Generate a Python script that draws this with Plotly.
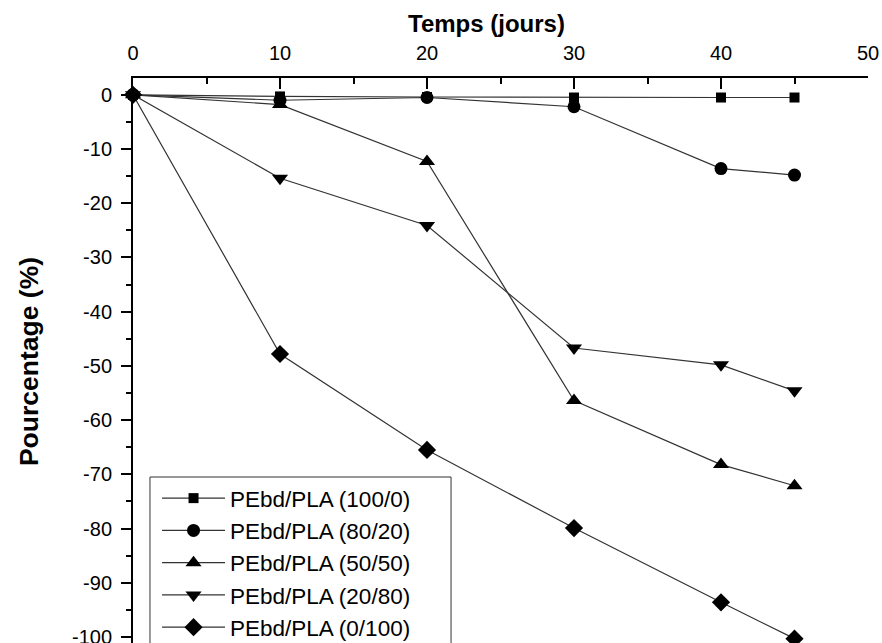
import plotly.graph_objects as go

days = [0, 10, 20, 30, 40, 45]
labels = ["PEbd/PLA (100/0)", "PEbd/PLA (80/20)", "PEbd/PLA (50/50)",
          "PEbd/PLA (20/80)", "PEbd/PLA (0/100)"]
s100_0 = [0, -0.3, -0.4, -0.5, -0.5, -0.5]
s80_20 = [0, -1.0, -0.5, -2.2, -13.6, -14.8]
s50_50 = [0, -1.8, -12.3, -56.4, -68.2, -72.1]
s20_80 = [0, -15.4, -24.1, -46.7, -49.8, -54.6]
s0_100 = [0, -47.8, -65.5, -79.9, -93.6, -100.3]
series = [s100_0, s80_20, s50_50, s20_80, s0_100]
symbols = ["square", "circle", "triangle-up", "triangle-down", "diamond"]
sizes = [10, 13, 14, 14, 14]

y_tickvals = [0, -10, -20, -30, -40, -50, -60, -70, -80, -90, -100]
y_ticktext = ["0", "-10", "-20", "-30", "-40", "-50", "-60", "-70", "-80", "-90", "-100"]

FONT = "Arial, Liberation Sans, sans-serif"

fig = go.Figure()
for lab, vals, sym, sz in zip(labels, series, symbols, sizes):
    fig.add_trace(go.Scatter(
        x=days, y=vals, name=lab, mode="lines+markers",
        line=dict(color="#333333", width=1.2),
        marker=dict(symbol=sym, size=sz, color="black", line=dict(width=0)),
        cliponaxis=False,
    ))

fig.update_layout(
    width=882, height=643,
    margin=dict(l=133, r=14, t=78, b=0, autoexpand=False),
    paper_bgcolor="white", plot_bgcolor="white",
    font=dict(family=FONT, size=20, color="black"),
    showlegend=True,
    legend=dict(
        x=0.0327, y=0.2938, xanchor="left", yanchor="top",
        bgcolor="rgba(0,0,0,0)", borderwidth=0,
        font=dict(family=FONT, size=22.5, color="black"),
        tracegroupgap=0, itemwidth=63,
    ),
    shapes=[
        dict(type="rect", xref="paper", yref="paper",
             x0=0.0231, x1=0.4327, y0=-0.05, y1=0.2938,
             line=dict(color="#333333", width=1), fillcolor="white", layer="below"),
    ],
    xaxis=dict(
        side="top", range=[0, 50], dtick=10, tick0=0,
        ticks="inside", ticklen=11, tickwidth=2, tickcolor="black",
        showline=True, linecolor="black", linewidth=2,
        showgrid=False, zeroline=False, automargin=False,
        ticklabelstandoff=8, ticklabeloverflow="allow",
        minor=dict(dtick=5, ticks="inside", ticklen=6, tickwidth=2, tickcolor="black"),
    ),
    yaxis=dict(
        range=[-101.1, 3.1], tickmode="array",
        tickvals=y_tickvals, ticktext=y_ticktext,
        ticks="outside", ticklen=10, tickwidth=2, tickcolor="black",
        showline=True, linecolor="black", linewidth=2,
        showgrid=False, zeroline=False, automargin=False,
        ticklabelstandoff=5, ticklabeloverflow="allow",
        minor=dict(dtick=5, tick0=0, ticks="outside", ticklen=5, tickwidth=2, tickcolor="black"),
    ),
    annotations=[
        dict(text="<b>Temps (jours)</b>", xref="paper", yref="paper",
             x=0.4816, y=1.097, xanchor="center", yanchor="middle",
             showarrow=False, font=dict(family=FONT, size=24, color="black")),
        dict(text="<b>Pourcentage (%)</b>", xref="paper", yref="paper",
             x=-0.1415, y=0.499, xanchor="center", yanchor="middle",
             textangle=-90, showarrow=False,
             font=dict(family=FONT, size=26.5, color="black")),
    ],
)

fig.write_html("out.html", config={"displayModeBar": False},
               post_script="document.body.style.margin='0';")
